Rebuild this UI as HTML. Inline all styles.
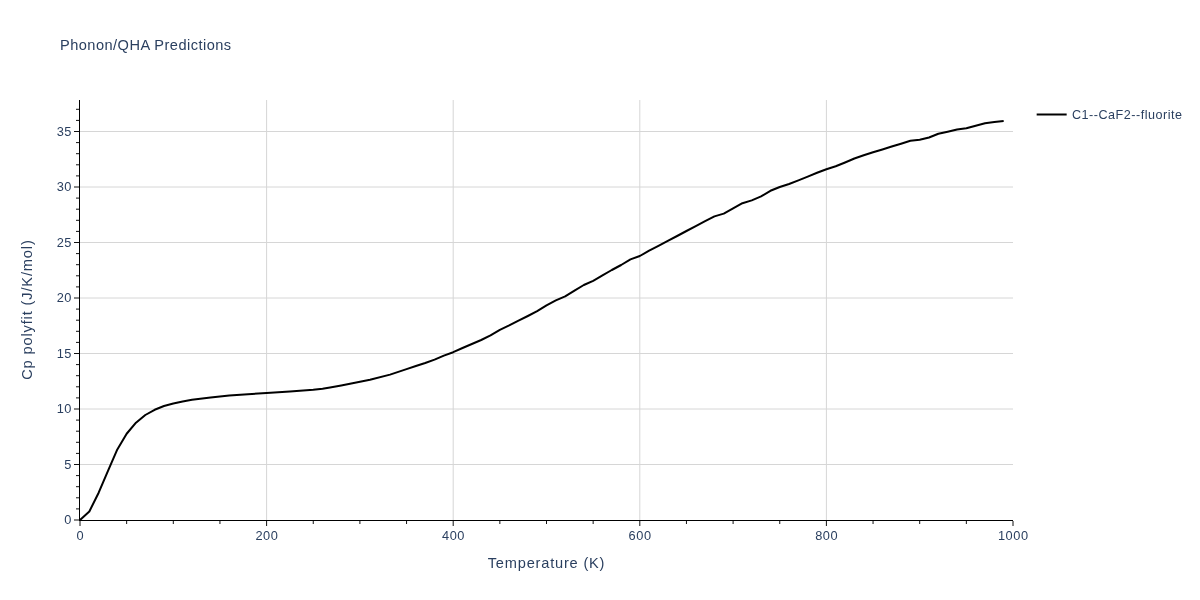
<!DOCTYPE html>
<html><head><meta charset="utf-8"><title>Phonon/QHA Predictions</title>
<style>
html,body{margin:0;padding:0;background:#fff;}
body{width:1200px;height:600px;overflow:hidden;font-family:"Liberation Sans",sans-serif;}
svg{display:block;will-change:transform;transform:translateZ(0);}
text{font-family:"Liberation Sans",sans-serif;fill:#2a3f5f;}
.tk{font-size:12.8px;letter-spacing:0.55px;}
.ttl{font-size:14.6px;letter-spacing:0.46px;}
.ax{font-size:14.6px;letter-spacing:0.81px;}
.ay{font-size:14.6px;letter-spacing:0.86px;}
.lg{font-size:12.6px;letter-spacing:0.5px;}
</style></head>
<body>
<svg width="1200" height="600" viewBox="0 0 1200 600">
<rect x="0" y="0" width="1200" height="600" fill="#ffffff"/>
<g>
<line x1="266.6" y1="100" x2="266.6" y2="520" stroke="#d6d6d6" stroke-width="1"/>
<line x1="453.2" y1="100" x2="453.2" y2="520" stroke="#d6d6d6" stroke-width="1"/>
<line x1="639.8" y1="100" x2="639.8" y2="520" stroke="#d6d6d6" stroke-width="1"/>
<line x1="826.4" y1="100" x2="826.4" y2="520" stroke="#d6d6d6" stroke-width="1"/>
<line x1="80" y1="464.5" x2="1013" y2="464.5" stroke="#d6d6d6" stroke-width="1"/>
<line x1="80" y1="409.0" x2="1013" y2="409.0" stroke="#d6d6d6" stroke-width="1"/>
<line x1="80" y1="353.5" x2="1013" y2="353.5" stroke="#d6d6d6" stroke-width="1"/>
<line x1="80" y1="298.0" x2="1013" y2="298.0" stroke="#d6d6d6" stroke-width="1"/>
<line x1="80" y1="242.5" x2="1013" y2="242.5" stroke="#d6d6d6" stroke-width="1"/>
<line x1="80" y1="187.0" x2="1013" y2="187.0" stroke="#d6d6d6" stroke-width="1"/>
<line x1="80" y1="131.5" x2="1013" y2="131.5" stroke="#d6d6d6" stroke-width="1"/>
</g>
<path d="M80.00,520.00L89.33,511.50L98.66,492.70L107.99,470.80L117.32,449.40L126.65,433.75L135.98,422.70L145.31,415.00L154.64,409.80L163.97,406.00L173.30,403.50L182.63,401.40L191.96,399.80L210.62,397.40L229.28,395.40L247.94,394.20L266.60,393.00L289.93,391.40L313.25,389.70L322.58,388.70L330.04,387.50L341.24,385.45L350.01,383.75L369.98,379.80L390.04,374.60L406.55,369.10L415.88,366.00L425.21,363.00L434.54,359.60L443.87,355.60L453.20,352.20L462.53,348.00L471.86,344.00L481.19,340.00L490.52,335.40L499.85,329.80L509.18,325.40L518.51,320.60L527.84,316.00L537.17,311.20L546.50,305.40L555.83,300.40L565.16,296.40L574.49,290.60L583.82,285.00L593.15,280.80L602.48,275.40L611.81,270.00L621.14,265.00L630.47,259.40L639.80,256.00L649.13,250.70L658.46,245.80L667.79,240.90L677.12,236.00L686.45,231.00L695.78,226.10L705.11,221.20L714.44,216.40L723.77,213.60L733.10,208.40L742.43,203.20L751.76,200.40L761.09,196.40L770.42,190.80L779.75,187.00L789.08,184.00L798.41,180.40L807.74,176.60L817.07,172.80L826.40,169.20L835.73,166.30L845.06,162.50L854.39,158.50L863.72,155.30L873.05,152.30L882.38,149.50L891.71,146.50L901.04,143.70L910.37,140.80L919.70,139.70L929.03,137.50L938.36,133.80L947.69,131.70L957.02,129.60L966.35,128.30L975.68,125.70L985.01,123.30L994.34,122.00L1003.67,121.00" fill="none" stroke="#000" stroke-width="2" stroke-linejoin="round" stroke-linecap="butt"/>
<g>
<line x1="79.5" y1="100" x2="79.5" y2="521" stroke="#000" stroke-width="1"/>
<line x1="79" y1="520.5" x2="1013" y2="520.5" stroke="#000" stroke-width="1"/>
<line x1="80.0" y1="521" x2="80.0" y2="526" stroke="#111" stroke-width="1"/>
<line x1="126.65" y1="521" x2="126.65" y2="524" stroke="#111" stroke-width="1"/>
<line x1="173.3" y1="521" x2="173.3" y2="524" stroke="#111" stroke-width="1"/>
<line x1="219.95" y1="521" x2="219.95" y2="524" stroke="#111" stroke-width="1"/>
<line x1="266.6" y1="521" x2="266.6" y2="526" stroke="#111" stroke-width="1"/>
<line x1="313.25" y1="521" x2="313.25" y2="524" stroke="#111" stroke-width="1"/>
<line x1="359.9" y1="521" x2="359.9" y2="524" stroke="#111" stroke-width="1"/>
<line x1="406.55" y1="521" x2="406.55" y2="524" stroke="#111" stroke-width="1"/>
<line x1="453.2" y1="521" x2="453.2" y2="526" stroke="#111" stroke-width="1"/>
<line x1="499.85" y1="521" x2="499.85" y2="524" stroke="#111" stroke-width="1"/>
<line x1="546.5" y1="521" x2="546.5" y2="524" stroke="#111" stroke-width="1"/>
<line x1="593.15" y1="521" x2="593.15" y2="524" stroke="#111" stroke-width="1"/>
<line x1="639.8" y1="521" x2="639.8" y2="526" stroke="#111" stroke-width="1"/>
<line x1="686.45" y1="521" x2="686.45" y2="524" stroke="#111" stroke-width="1"/>
<line x1="733.1" y1="521" x2="733.1" y2="524" stroke="#111" stroke-width="1"/>
<line x1="779.75" y1="521" x2="779.75" y2="524" stroke="#111" stroke-width="1"/>
<line x1="826.4" y1="521" x2="826.4" y2="526" stroke="#111" stroke-width="1"/>
<line x1="873.05" y1="521" x2="873.05" y2="524" stroke="#111" stroke-width="1"/>
<line x1="919.7" y1="521" x2="919.7" y2="524" stroke="#111" stroke-width="1"/>
<line x1="966.35" y1="521" x2="966.35" y2="524" stroke="#111" stroke-width="1"/>
<line x1="1013.0" y1="521" x2="1013.0" y2="526" stroke="#111" stroke-width="1"/>
<line x1="74" y1="520.0" x2="79" y2="520.0" stroke="#111" stroke-width="1"/>
<line x1="76" y1="508.9" x2="79" y2="508.9" stroke="#111" stroke-width="1"/>
<line x1="76" y1="497.8" x2="79" y2="497.8" stroke="#111" stroke-width="1"/>
<line x1="76" y1="486.7" x2="79" y2="486.7" stroke="#111" stroke-width="1"/>
<line x1="76" y1="475.6" x2="79" y2="475.6" stroke="#111" stroke-width="1"/>
<line x1="74" y1="464.5" x2="79" y2="464.5" stroke="#111" stroke-width="1"/>
<line x1="76" y1="453.4" x2="79" y2="453.4" stroke="#111" stroke-width="1"/>
<line x1="76" y1="442.3" x2="79" y2="442.3" stroke="#111" stroke-width="1"/>
<line x1="76" y1="431.2" x2="79" y2="431.2" stroke="#111" stroke-width="1"/>
<line x1="76" y1="420.1" x2="79" y2="420.1" stroke="#111" stroke-width="1"/>
<line x1="74" y1="409.0" x2="79" y2="409.0" stroke="#111" stroke-width="1"/>
<line x1="76" y1="397.9" x2="79" y2="397.9" stroke="#111" stroke-width="1"/>
<line x1="76" y1="386.8" x2="79" y2="386.8" stroke="#111" stroke-width="1"/>
<line x1="76" y1="375.7" x2="79" y2="375.7" stroke="#111" stroke-width="1"/>
<line x1="76" y1="364.6" x2="79" y2="364.6" stroke="#111" stroke-width="1"/>
<line x1="74" y1="353.5" x2="79" y2="353.5" stroke="#111" stroke-width="1"/>
<line x1="76" y1="342.4" x2="79" y2="342.4" stroke="#111" stroke-width="1"/>
<line x1="76" y1="331.3" x2="79" y2="331.3" stroke="#111" stroke-width="1"/>
<line x1="76" y1="320.2" x2="79" y2="320.2" stroke="#111" stroke-width="1"/>
<line x1="76" y1="309.1" x2="79" y2="309.1" stroke="#111" stroke-width="1"/>
<line x1="74" y1="298.0" x2="79" y2="298.0" stroke="#111" stroke-width="1"/>
<line x1="76" y1="286.9" x2="79" y2="286.9" stroke="#111" stroke-width="1"/>
<line x1="76" y1="275.8" x2="79" y2="275.8" stroke="#111" stroke-width="1"/>
<line x1="76" y1="264.7" x2="79" y2="264.7" stroke="#111" stroke-width="1"/>
<line x1="76" y1="253.6" x2="79" y2="253.6" stroke="#111" stroke-width="1"/>
<line x1="74" y1="242.5" x2="79" y2="242.5" stroke="#111" stroke-width="1"/>
<line x1="76" y1="231.4" x2="79" y2="231.4" stroke="#111" stroke-width="1"/>
<line x1="76" y1="220.3" x2="79" y2="220.3" stroke="#111" stroke-width="1"/>
<line x1="76" y1="209.2" x2="79" y2="209.2" stroke="#111" stroke-width="1"/>
<line x1="76" y1="198.1" x2="79" y2="198.1" stroke="#111" stroke-width="1"/>
<line x1="74" y1="187.0" x2="79" y2="187.0" stroke="#111" stroke-width="1"/>
<line x1="76" y1="175.9" x2="79" y2="175.9" stroke="#111" stroke-width="1"/>
<line x1="76" y1="164.8" x2="79" y2="164.8" stroke="#111" stroke-width="1"/>
<line x1="76" y1="153.7" x2="79" y2="153.7" stroke="#111" stroke-width="1"/>
<line x1="76" y1="142.6" x2="79" y2="142.6" stroke="#111" stroke-width="1"/>
<line x1="74" y1="131.5" x2="79" y2="131.5" stroke="#111" stroke-width="1"/>
<line x1="76" y1="120.4" x2="79" y2="120.4" stroke="#111" stroke-width="1"/>
<line x1="76" y1="109.3" x2="79" y2="109.3" stroke="#111" stroke-width="1"/>
</g>
<text class="tk" x="80.3" y="540" text-anchor="middle">0</text>
<text class="tk" x="266.9" y="540" text-anchor="middle">200</text>
<text class="tk" x="453.5" y="540" text-anchor="middle">400</text>
<text class="tk" x="640.1" y="540" text-anchor="middle">600</text>
<text class="tk" x="826.7" y="540" text-anchor="middle">800</text>
<text class="tk" x="1013.3" y="540" text-anchor="middle">1000</text>
<text class="tk" x="72" y="524.2" text-anchor="end">0</text>
<text class="tk" x="72" y="468.7" text-anchor="end">5</text>
<text class="tk" x="72" y="413.2" text-anchor="end">10</text>
<text class="tk" x="72" y="357.7" text-anchor="end">15</text>
<text class="tk" x="72" y="302.2" text-anchor="end">20</text>
<text class="tk" x="72" y="246.7" text-anchor="end">25</text>
<text class="tk" x="72" y="191.2" text-anchor="end">30</text>
<text class="tk" x="72" y="135.7" text-anchor="end">35</text>
<text class="ttl" x="60" y="50">Phonon/QHA Predictions</text>
<text class="ax" x="546.5" y="567.8" text-anchor="middle">Temperature (K)</text>
<text class="ay" transform="translate(32.2,309.6) rotate(-90)" text-anchor="middle">Cp polyfit (J/K/mol)</text>
<line x1="1036.66" y1="114.5" x2="1066.66" y2="114.5" stroke="#000" stroke-width="2"/>
<text class="lg" x="1072" y="119.4">C1--CaF2--fluorite</text>
</svg>
</body></html>
